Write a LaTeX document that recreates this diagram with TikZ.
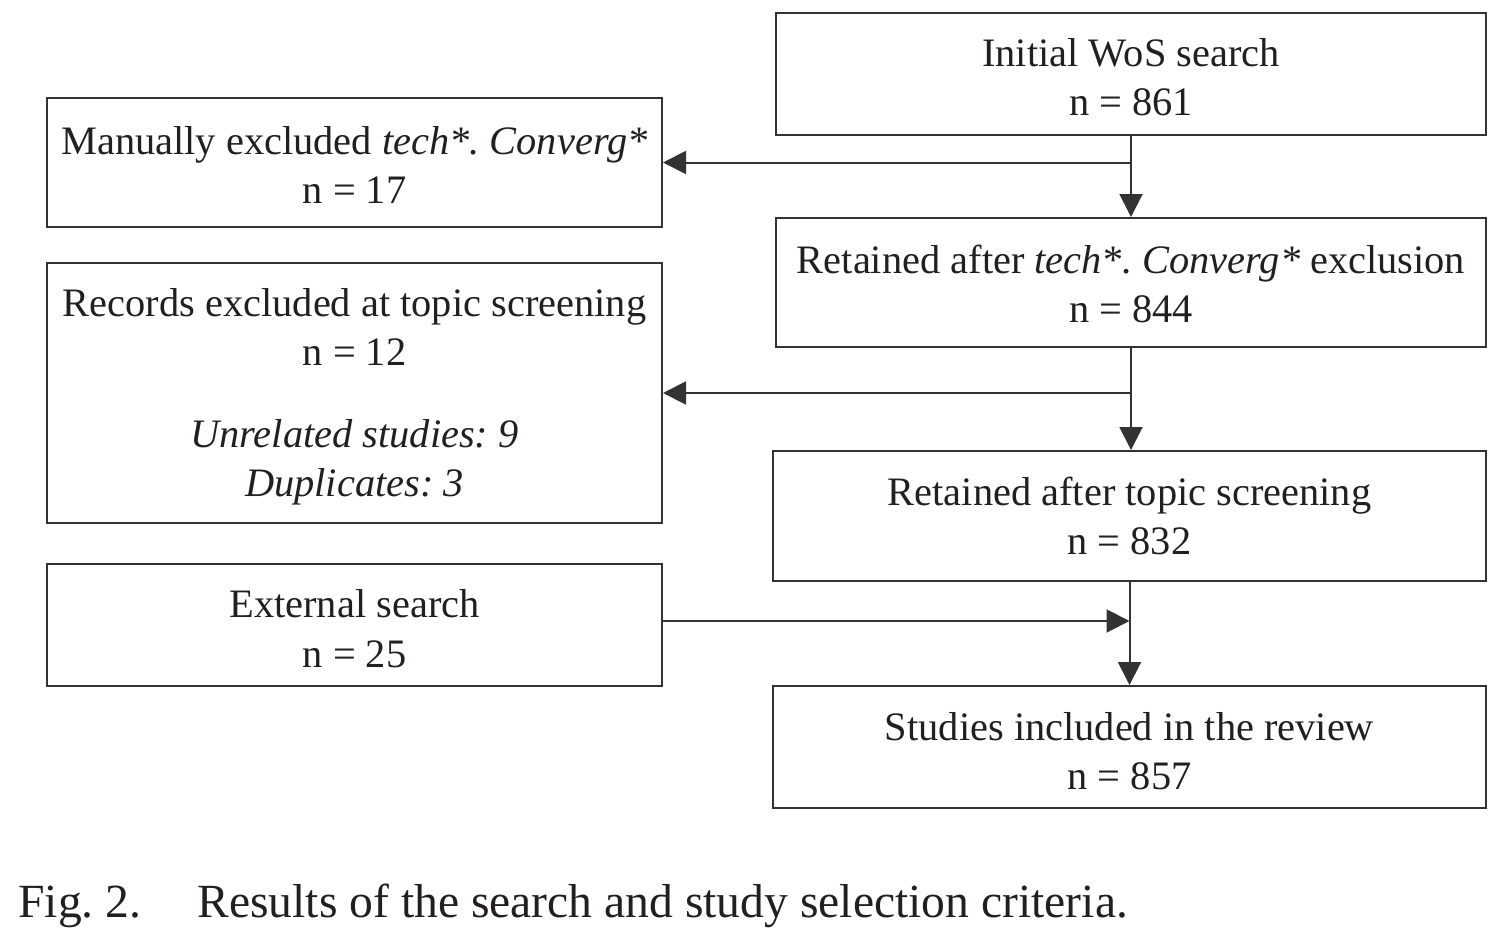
\documentclass[tikz,border=0pt]{standalone}
\usepackage{fontspec}
\setmainfont{Liberation Serif}
\usetikzlibrary{arrows.meta}
\definecolor{linec}{HTML}{333333}
\definecolor{textc}{HTML}{231F20}
\frenchspacing
\newcommand{\lowstrut}[1]{\rule{0pt}{#1}}
\begin{document}
\begin{tikzpicture}[x=0.5pt,y=-0.5pt,
  box/.style={draw=linec,line width=1pt,rectangle,align=center,inner sep=0pt,
    text=textc,font=\fontsize{20.2}{24.8}\selectfont},
  arr/.style={draw=linec,line width=1pt,-{Triangle[length=11.5pt,width=11.5pt]}}]
\useasboundingbox (0,0) rectangle (1498,931);
\node[box,minimum width=355pt,minimum height=61pt] (init) at (1131,74)
  {\lowstrut{17pt}Initial WoS search\\n = 861};
\node[box,minimum width=307.5pt,minimum height=64.5pt] (manual) at (354.5,162.5)
  {\lowstrut{16.5pt}Manually excluded \textit{tech*. Converg*}\\n = 17};
\node[box,minimum width=355pt,minimum height=64.5pt] (rettech) at (1131,282.5)
  {\lowstrut{15.5pt}Retained after \textit{tech*. Converg*} exclusion\\n = 844};
\node[box,minimum width=307.5pt,minimum height=130pt] (records) at (354.5,393)
  {\lowstrut{17.8pt}Records excluded at topic screening\\n = 12\\[16pt]\textit{Unrelated studies: 9}\\\textit{Duplicates: 3}};
\node[box,minimum width=356.5pt,minimum height=65pt] (rettopic) at (1129.5,516)
  {Retained after topic screening\\n = 832};
\node[box,minimum width=307.5pt,minimum height=61pt] (external) at (354.5,625)
  {\lowstrut{17.8pt}External search\\n = 25};
\node[box,minimum width=356.5pt,minimum height=61pt] (studies) at (1129.5,747)
  {\lowstrut{18pt}Studies included in the review\\n = 857};
\node[anchor=base west,inner sep=0pt,text=textc,font=\fontsize{23.8}{28}\selectfont] (caption) at (18,917)
  {\makebox[89.5pt][l]{Fig. 2.}Results of the search and study selection criteria.};
% connectors
\coordinate (j1) at (init.south |- manual.east);
\draw[arr] (init.south) -- (rettech.north);
\draw[arr] (j1) -- (manual.east);
\coordinate (j2) at (rettech.south |- records.east);
\draw[arr] (rettech.south) -- (rettech.south |- rettopic.north);
\draw[arr] (j2) -- (records.east);
\coordinate (j3) at ([yshift=2pt]external.east);
\draw[arr] (rettopic.south) -- (studies.north);
\draw[arr] (j3) -- (j3 -| rettopic.south);
\end{tikzpicture}
\end{document}
